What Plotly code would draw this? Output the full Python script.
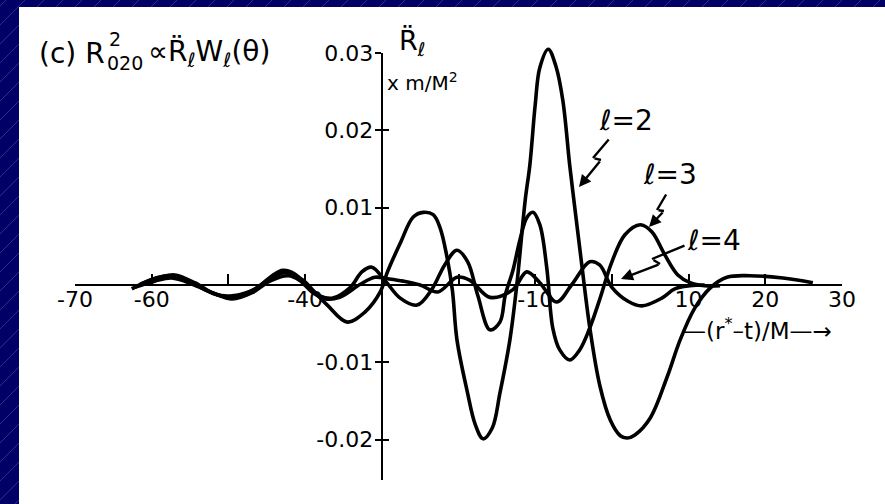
import plotly.graph_objects as go

# ---------------------------------------------------------------------------
# Waveforms R̈_ℓ (units of m/M^2) versus retarded time -(r* - t)/M
# ---------------------------------------------------------------------------
l2_x = [-62.6, -60.2, -57.9, -55.0, -52.4, -49.8, -47.2, -44.8, -42.6, -40.3,
        -39.0, -37.1, -34.5, -32.2, -30.2, -29.3, -27.6, -25.9, -24.6, -23.3,
        -22.4, -21.5, -20.8, -20.2, -18.9, -17.8, -16.8, -15.6, -14.6, -13.3,
        -12.4, -11.3, -10.7, -10.0, -9.4, -8.3, -7.3, -6.4, -5.5, -4.8,
        -4.0, -2.9, -1.6, -0.2, 1.1, 2.0, 3.0, 5.0, 7.2, 8.9,
        10.8, 12.8, 15.0, 18.0, 22.3, 26.2]
l2_y = [-0.0005, 0.00065, 0.0012, 0.0004, -0.0009, -0.0016, -0.0009, 0.00065, 0.0016, 0.00065,
        -0.00065, -0.0026, -0.0048, -0.0035, -0.0009, 0.0016, 0.0054, 0.0088, 0.0094, 0.0091,
        0.0074, 0.0036, -0.00065, -0.0071, -0.0136, -0.0181, -0.0199, -0.0185, -0.0140, -0.0071,
        0.0, 0.0110, 0.0155, 0.0233, 0.0281, 0.0305, 0.0283, 0.0239, 0.0155, 0.0097,
        0.0032, -0.0054, -0.0129, -0.0175, -0.0195, -0.0198, -0.0194, -0.0172, -0.0119, -0.0071,
        -0.0030, -0.0004, 0.0010, 0.0012, 0.0009, 0.0003]

l3_x = [-61.5, -58.9, -57.0, -54.4, -51.7, -49.5, -46.5, -44.3, -42.9, -41.3,
        -39.6, -38.1, -36.4, -34.1, -32.6, -31.3, -29.6, -27.6, -25.4, -23.5,
        -21.8, -20.2, -18.8, -17.5, -15.9, -14.6, -13.9, -12.9, -12.0, -11.1,
        -10.3, -9.4, -8.5, -7.7, -6.8, -5.5, -4.2, -2.9, -1.6, 0.0,
        1.7, 3.7, 5.2, 6.9, 8.6, 10.2, 12.1, 14.1]
l3_y = [0.0001, 0.0010, 0.0013, 0.0003, -0.0012, -0.0014, -0.0005, 0.0012, 0.0019, 0.0014,
        -0.0003, -0.0014, -0.0017, -0.0003, 0.0017, 0.0023, 0.0006, -0.0017, -0.0026, -0.0006,
        0.0026, 0.0045, 0.0030, -0.0013, -0.0058, -0.0048, -0.0013, 0.0019, 0.0058, 0.0087,
        0.0094, 0.0078, 0.0023, -0.0056, -0.0084, -0.0097, -0.0084, -0.0056, -0.0019, 0.0030,
        0.0065, 0.0078, 0.0069, 0.0039, 0.0013, 0.0003, -0.0001, -0.0001]

l4_x = [-62.2, -59.6, -57.4, -54.7, -52.1, -49.5, -46.9, -44.6, -42.2, -40.7,
        -39.1, -37.4, -35.5, -32.8, -30.9, -29.2, -27.2, -25.0, -22.7, -20.2,
        -18.5, -15.9, -12.9, -11.1, -9.4, -7.2, -5.2, -2.9, -1.6, 0.0,
        2.1, 3.9, 6.5, 8.2, 10.2, 12.1]
l4_y = [-0.0003, 0.0005, 0.0009, 0.0001, -0.0010, -0.0018, -0.0010, 0.0005, 0.0012, 0.0006,
        -0.0009, -0.0018, -0.0016, 0.0001, 0.0010, 0.0008, 0.0005, 0.0000, -0.0009, 0.0010,
        0.0006, -0.0016, -0.0006, 0.0017, 0.0003, -0.0022, 0.0001, 0.0030, 0.0026, -0.0003,
        -0.0021, -0.0027, -0.0017, -0.0005, -0.0001, 0.0000]

x_ticks = [-70, -60, -50, -40, -30, -20, -10, 0, 10, 20, 30]
x_tick_text = ["-70", "-60", "", "-40", "", "", "-10", "", "10", "20", "30"]
y_ticks = [0.03, 0.02, 0.01, -0.01, -0.02]
y_tick_text = ["0.03", "0.02", "0.01", "-0.01", "-0.02"]

# ---------------------------------------------------------------------------
# Page geometry (pixels)
# ---------------------------------------------------------------------------
W, H = 885, 504
X_LEFT_PX, X_RIGHT_PX = 75, 842          # x = -70 ... 30
X_MIN, X_MAX = -70, 30
SX = (X_RIGHT_PX - X_LEFT_PX) / (X_MAX - X_MIN)
Y_ZERO_PX = 285                         # vertical position of the x axis
SY = 7730.0                             # pixels per unit of R̈
Y_AXIS_AT = -30                         # x value where the vertical axis stands
Y_TOP_PX, Y_BOT_PX = 53, 480

NAVY = "#000066"
INK = "black"
FONT = "DejaVu Sans"


def px_to_x(px):
    return X_MIN + (px - X_LEFT_PX) / SX


def px_to_y(py):
    return (Y_ZERO_PX - py) / SY


def paper_x(px):
    return px / W


def paper_y(py):
    return 1 - py / H


y_axis_px = X_LEFT_PX + (Y_AXIS_AT - X_MIN) * SX

fig = go.Figure()

# placeholders so the crossed axes get drawn
fig.add_trace(go.Scatter(x=[Y_AXIS_AT], y=[0], xaxis="x", yaxis="y", mode="markers",
                         marker=dict(opacity=0), hoverinfo="skip", showlegend=False))
fig.add_trace(go.Scatter(x=[Y_AXIS_AT], y=[0], xaxis="x", yaxis="y3", mode="markers",
                         marker=dict(opacity=0), hoverinfo="skip", showlegend=False))

# the three multipole waveforms
for xs, ys in [(l2_x, l2_y), (l3_x, l3_y), (l4_x, l4_y)]:
    fig.add_trace(go.Scatter(
        x=xs, y=ys, xaxis="x2", yaxis="y2", mode="lines",
        line=dict(color=INK, width=3.6, shape="spline", smoothing=1.0),
        hoverinfo="skip", showlegend=False,
    ))

# ---------------------------------------------------------------------------
# Border: navy frame with faint diagonal hatching and a white panel
# ---------------------------------------------------------------------------
shapes = []
step = 19
for k in range(-2, (W + H) // step + 3):
    c = k * step + 6
    shapes.append(dict(type="line", xref="paper", yref="paper", layer="below",
                       x0=paper_x(c - H), y0=paper_y(H), x1=paper_x(c), y1=paper_y(0),
                       line=dict(color="rgba(130,130,210,0.35)", width=1)))
shapes.append(dict(type="rect", xref="paper", yref="paper", layer="below",
                   x0=paper_x(19), y0=paper_y(H + 2), x1=paper_x(W + 2), y1=paper_y(7),
                   fillcolor="white", line=dict(width=0)))

annotations = []


def text_at(txt, px, py, size, xanchor="left"):
    annotations.append(dict(text=txt, xref="paper", yref="paper",
                            x=paper_x(px), y=paper_y(py), xanchor=xanchor, yanchor="middle",
                            showarrow=False, font=dict(family=FONT, size=size, color=INK)))


# panel heading
text_at("(c) R", 37, 54, 28)
text_at("2", 107, 39, 19)
text_at("020", 105, 63, 19)
text_at("∝R̈<sub>ℓ</sub>W<sub>ℓ</sub>(θ)", 146, 54, 28)

# axis captions
text_at("R̈<sub>ℓ</sub>", 397, 42, 27)
text_at("x m/M<sup>2</sup>", 385, 82, 20)
text_at("—(r<sup>*</sup>–t)/M—→", 681, 329, 23)

# multipole labels
text_at("ℓ=2", 597, 120, 28)
text_at("ℓ=3", 641, 174, 28)
text_at("ℓ=4", 685, 240, 28)

# lightning-bolt pointers from labels to curves (pixel waypoints)
bolts = [
    [(610, 138), (593, 158), (601, 160), (579, 187)],
    [(667, 193), (657, 210), (664, 211), (649, 227)],
    [(686, 245), (652, 259), (660, 264), (621, 279)],
]
for pts in bolts:
    for i in range(len(pts) - 1):
        (ax_, ay_), (x_, y_) = pts[i], pts[i + 1]
        last = i == len(pts) - 2
        annotations.append(dict(
            text="", xref="x2", yref="y2", axref="x2", ayref="y2",
            x=px_to_x(x_), y=px_to_y(y_), ax=px_to_x(ax_), ay=px_to_y(ay_),
            showarrow=True, arrowhead=2 if last else 0, arrowsize=1.0,
            arrowwidth=2.4, arrowcolor=INK, standoff=0, startstandoff=0,
        ))

tickfont = dict(family=FONT, size=22, color=INK)

fig.update_layout(
    width=W, height=H,
    margin=dict(l=0, r=0, t=0, b=0, pad=0, autoexpand=False),
    paper_bgcolor=NAVY,
    plot_bgcolor="rgba(0,0,0,0)",
    showlegend=False,
    shapes=shapes,
    annotations=annotations,
    xaxis=dict(
        domain=[X_LEFT_PX / W, X_RIGHT_PX / W], range=[X_MIN, X_MAX],
        anchor="free", position=paper_y(Y_ZERO_PX),
        showline=True, linecolor=INK, linewidth=2.2,
        ticks="inside", ticklen=10, tickwidth=2, tickcolor=INK,
        tickvals=x_ticks, ticktext=x_tick_text, tickfont=tickfont,
        ticklabelstandoff=-6, automargin=False,
        showgrid=False, zeroline=False, fixedrange=True,
    ),
    yaxis=dict(
        domain=[paper_y(Y_BOT_PX), paper_y(Y_TOP_PX)],
        range=[px_to_y(Y_BOT_PX), px_to_y(Y_TOP_PX)],
        anchor="free", position=y_axis_px / W,
        showline=True, linecolor=INK, linewidth=2.2,
        ticks="outside", ticklen=6, tickwidth=2, tickcolor=INK,
        tickvals=y_ticks, ticktext=y_tick_text, tickfont=tickfont,
        ticklabelstandoff=-3, automargin=False,
        showgrid=False, zeroline=False, fixedrange=True,
    ),
    yaxis3=dict(
        domain=[paper_y(Y_BOT_PX), paper_y(Y_TOP_PX)],
        range=[px_to_y(Y_BOT_PX), px_to_y(Y_TOP_PX)],
        overlaying="y", anchor="free", position=y_axis_px / W,
        showline=False, ticks="inside", ticklen=6, tickwidth=2, tickcolor=INK,
        tickvals=y_ticks, showticklabels=False, automargin=False,
        showgrid=False, zeroline=False, fixedrange=True,
    ),
    xaxis2=dict(
        domain=[0, 1], range=[px_to_x(0), px_to_x(W)], anchor="y2",
        visible=False, fixedrange=True,
    ),
    yaxis2=dict(
        domain=[0, 1], range=[px_to_y(H), px_to_y(0)], anchor="x2",
        visible=False, fixedrange=True,
    ),
)

fig.write_html("out.html")
